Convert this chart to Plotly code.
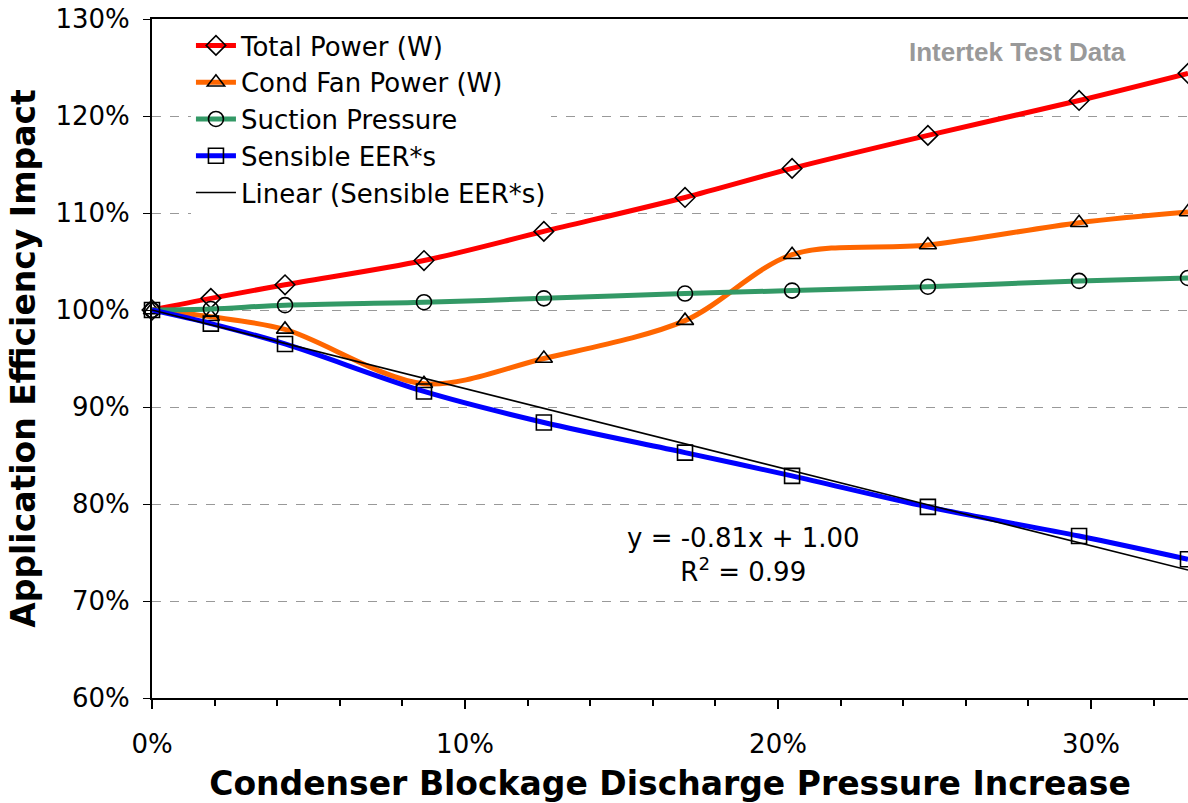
import plotly.graph_objects as go
import numpy as np

# ---- data (fractions) ----
pressure_increase = [0.0, 0.0188, 0.0425, 0.0869, 0.1252, 0.1703, 0.2045, 0.2479, 0.2962, 0.331]
total_power = [1.000, 1.012, 1.026, 1.051, 1.081, 1.116, 1.146, 1.180, 1.216, 1.244]
cond_fan_power = [1.000, 0.993, 0.980, 0.924, 0.950, 0.989, 1.057, 1.067, 1.090, 1.101]
suction_pressure = [1.000, 1.001, 1.005, 1.008, 1.012, 1.017, 1.020, 1.024, 1.030, 1.033]
sensible_eer = [1.000, 0.986, 0.965, 0.916, 0.884, 0.853, 0.829, 0.797, 0.767, 0.743]
trend_slope = -0.81
trend_intercept = 1.00
trend_label = "y = -0.81x + 1.00<br>R<sup>2</sup> = 0.99"
watermark = "Intertek Test Data"
x_title = "Condenser Blockage Discharge Pressure Increase"
y_title = "Application Efficiency Impact"

FONT = "DejaVu Sans"

fig = go.Figure()

series = [
    ("Total Power (W)", total_power, "#FF0000", "diamond-open"),
    ("Cond Fan Power (W)", cond_fan_power, "#FF6600", "triangle-up-open"),
    ("Suction Pressure", suction_pressure, "#339966", "circle-open"),
    ("Sensible EER*s", sensible_eer, "#0000FF", "square-open"),
]
for name, ys, color, sym in series:
    fig.add_trace(go.Scatter(
        x=pressure_increase, y=ys, name=name, mode="lines+markers",
        line=dict(color=color, width=5, shape="spline", smoothing=0.9),
        marker=dict(symbol=sym, color="black", size=15, line=dict(width=1.6, color="black")),
        cliponaxis=False,
    ))

xt = np.array([pressure_increase[0], pressure_increase[-1]])
fig.add_trace(go.Scatter(
    x=xt, y=trend_intercept + trend_slope * xt, name="Linear (Sensible EER*s)",
    mode="lines", line=dict(color="black", width=1.5),
))

fig.add_annotation(x=0.1890, y=0.7475, xref="x", yref="y", text=trend_label,
                   showarrow=False, font=dict(family=FONT, size=26, color="black"),
                   align="center")
fig.add_annotation(x=0.2764, y=1.2655, xref="x", yref="y", text="<b>" + watermark + "</b>",
                   showarrow=False, font=dict(family="Liberation Sans", size=26, color="#999999"))

fig.update_layout(
    width=1188, height=803,
    margin=dict(l=152, r=0, t=19, b=103),
    paper_bgcolor="white", plot_bgcolor="white",
    font=dict(family=FONT, size=26, color="black"),
    showlegend=True,
    legend=dict(x=0.0376, y=0.9956, xanchor="left", yanchor="top",
                bgcolor="white", borderwidth=0,
                font=dict(family=FONT, size=26, color="black"),
                tracegroupgap=0, itemwidth=40),
)
fig.update_xaxes(
    range=[0, 0.331], dtick=0.1, tickformat=".0%",
    showgrid=False, zeroline=False,
    showline=True, linecolor="black", linewidth=2, mirror=True,
    ticks="outside", ticklen=9, tickwidth=2, tickcolor="black",
    ticklabelstandoff=13,
    minor=dict(dtick=0.02, ticks="outside", ticklen=6, tickwidth=2, tickcolor="black", showgrid=False),
    tickfont=dict(family=FONT, size=26),
    title=dict(text="<b>" + x_title + "</b>", font=dict(family=FONT, size=33), standoff=21),
)
fig.update_yaxes(
    range=[0.6, 1.3], dtick=0.1, tickformat=".0%",
    showgrid=True, gridcolor="#999999", griddash="dash", gridwidth=1,
    zeroline=False,
    showline=True, linecolor="black", linewidth=2,
    ticks="outside", ticklen=7, tickwidth=1, tickcolor="black",
    ticklabelstandoff=8,
    tickfont=dict(family=FONT, size=26),
    title=dict(text="<b>" + y_title + "</b>", font=dict(family=FONT, size=33), standoff=10),
)

fig.write_html("out.html")
